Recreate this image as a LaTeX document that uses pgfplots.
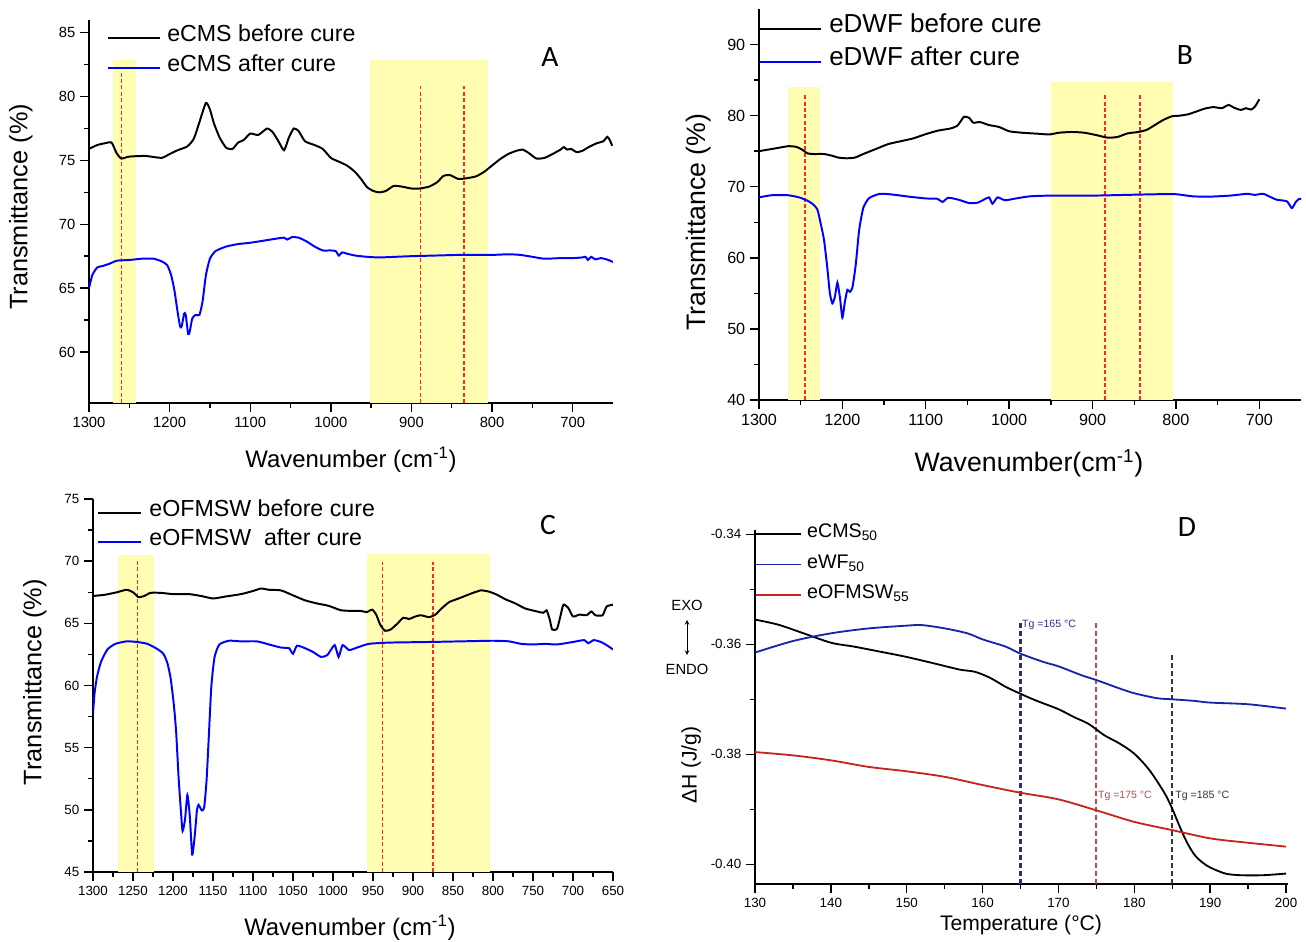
\documentclass[border=0pt]{standalone}
\usepackage{pgfplots}
\pgfplotsset{compat=1.18}
\usepackage{fontspec}
\setmainfont{Liberation Sans}
\newfontfamily\carlito{Carlito}

\definecolor{hl}{RGB}{255,253,178}
\definecolor{ftblue}{RGB}{0,0,255}
\definecolor{dscred}{RGB}{255,40,40}
\definecolor{dblue}{RGB}{25,35,165}
\definecolor{dred}{RGB}{200,35,35}
\definecolor{navyd}{RGB}{45,45,140}
\definecolor{redd}{RGB}{185,75,75}

\tikzset{
  mark line/.style={dscred, line width=0.95pt, dash pattern=on 1mm off 0.6mm},
  spectrum/.style={line width=1.4pt, smooth, tension=0.35},
}
\pgfplotsset{
  common/.style={
    scale only axis,
    anchor=south west,
    axis lines*=left,
    axis line style={line width=1.1pt},
    tick align=outside,
    major tick length=2.2mm,
    minor tick length=1.2mm,
    tick style={black, line width=1pt},
    /pgf/number format/assume math mode=true,
    /pgf/number format/1000 sep={},
    legend cell align=left,
  },
  spec/.style={
    common,
    x dir=reverse,
    xmin=650, xmax=1300,
  },
}

\begin{document}
\begin{tikzpicture}
\path[use as bounding box] (0,0) rectangle (326.5mm,235.25mm);

% ---------------- A ----------------
\begin{axis}[spec,
  at={(22.25mm,134.5mm)}, width=131mm, height=95.75mm,
  ymin=56, ymax=86, ytick={60,65,...,85}, minor y tick num=1,
  xtick={700,800,...,1300}, minor x tick num=1,
  tick label style={font=\fontsize{10.5}{12}\selectfont},
  label style={font=\fontsize{17}{19}\selectfont},
  xlabel={Wavenumber (cm\textsuperscript{-1})}, ylabel={Transmittance (\%)},
  xlabel style={at={(axis description cs:0.5,-0.149)}, anchor=center},
  ylabel style={font=\fontsize{18}{20}\selectfont, at={(axis description cs:-0.13,0.512)}, anchor=center},
  legend style={at={(axis description cs:0.0344,0.992)}, anchor=north west,
    draw=none, fill=none, inner sep=0pt, font=\fontsize{16.5}{18}\selectfont,
    nodes={inner sep=0pt, text height=0.75em, text depth=0.25em, minimum height=7.5mm},
    row sep=0pt, column sep=1.5mm},
  legend image code/.code={\draw[#1] (0mm,0mm) -- (13mm,0mm);},
]
\fill[hl] (axis cs:1270,56) rectangle (axis cs:1242,82.9);
\fill[hl] (axis cs:952,56) rectangle (axis cs:805,82.9);
\draw[mark line] (axis cs:1260,56) -- (axis cs:1260,81.9);
\draw[mark line] (axis cs:889,56) -- (axis cs:889,80.8);
\draw[mark line] (axis cs:835,56) -- (axis cs:835,80.8);
\addplot[black, spectrum] coordinates {
(1300,75.9)(1290,76.2)(1280,76.35)(1272,76.4)(1266,75.6)(1260,75.15)(1250,75.3)
(1230,75.35)(1210,75.2)(1200,75.5)(1190,75.8)(1178,76.1)(1170,76.7)(1163,78.0)
(1155,79.5)(1150,79.0)(1145,77.9)(1138,76.8)(1130,76.0)(1122,75.9)(1115,76.4)
(1108,76.6)(1100,77.1)(1090,77.0)(1079,77.5)(1072,77.2)(1065,76.5)(1058,75.8)
(1052,76.8)(1046,77.5)(1040,77.3)(1032,76.5)(1020,76.2)(1010,75.9)(1000,75.2)
(990,74.9)(980,74.6)(970,74.1)(962,73.5)(955,72.9)(947,72.6)(940,72.5)(932,72.6)
(922,73.0)(912,72.95)(900,72.8)(890,72.8)(878,72.95)(868,73.3)(860,73.8)(852,73.85)
(842,73.55)(832,73.6)(820,73.75)(810,74.1)(800,74.6)(790,75.1)(780,75.5)(770,75.75)
(762,75.85)(755,75.6)(745,75.15)(735,75.2)(725,75.5)(715,75.85)(711,76.05)(707,75.85)
(702,75.9)(695,75.65)(688,75.75)(680,76.05)(670,76.35)(662,76.5)(657,76.85)(654,76.6)
(651,76.15)
};
\addlegendentry{eCMS before cure}
\addplot[ftblue, spectrum] coordinates {
(1300,65.0)(1296,66.0)(1290,66.6)(1282,66.75)(1275,66.9)(1265,67.15)(1250,67.2)
(1235,67.3)(1220,67.3)(1210,67.1)(1203,66.8)(1198,66.0)(1194,64.8)(1190,63.1)
(1187,62.0)(1185,62.0)(1182,63.0)(1180,62.9)(1177,61.4)(1175,61.6)(1172,62.6)
(1168,62.9)(1163,62.9)(1159,64.0)(1155,66.0)(1150,67.3)(1143,67.9)(1130,68.25)
(1115,68.45)(1100,68.55)(1080,68.75)(1065,68.9)(1058,68.95)(1054,68.8)(1048,69.0)
(1040,68.95)(1030,68.65)(1020,68.25)(1010,67.95)(1000,67.95)(994,67.9)(990,67.55)
(986,67.8)(980,67.7)(970,67.55)(955,67.45)(940,67.4)(920,67.45)(900,67.5)(870,67.55)
(840,67.6)(800,67.6)(780,67.65)(765,67.6)(750,67.45)(735,67.3)(715,67.35)(700,67.35)
(688,67.4)(684,67.45)(681,67.2)(677,67.45)(672,67.25)(665,67.35)(658,67.25)(650,67.05)
};
\addlegendentry{eCMS after cure}
\end{axis}

% ---------------- B ----------------
\begin{axis}[spec,
  at={(189.75mm,135.25mm)}, width=135.5mm, height=97.75mm,
  ymin=40, ymax=95, ytick={40,50,...,90}, minor y tick num=1,
  xtick={700,800,...,1300}, minor x tick num=1,
  tick label style={font=\fontsize{11.5}{13}\selectfont},
  label style={font=\fontsize{19}{21}\selectfont},
  xlabel={Wavenumber(cm\textsuperscript{-1})}, ylabel={Transmittance (\%)},
  xlabel style={at={(axis description cs:0.498,-0.161)}, anchor=center},
  ylabel style={at={(axis description cs:-0.111,0.455)}, anchor=center},
  legend style={at={(axis description cs:0,0.991)}, anchor=north west,
    draw=none, fill=none, inner sep=0pt, font=\fontsize{18.5}{21}\selectfont,
    nodes={inner sep=0pt, text height=0.75em, text depth=0.25em, minimum height=8.25mm},
    row sep=0pt, column sep=1.75mm},
  legend image code/.code={\draw[#1] (0mm,0mm) -- (15.25mm,0mm);},
]
\fill[hl] (axis cs:1265,40) rectangle (axis cs:1227,84.0);
\fill[hl] (axis cs:950,40) rectangle (axis cs:804,84.75);
\draw[mark line] (axis cs:1245,40) -- (axis cs:1245,83.1);
\draw[mark line] (axis cs:885,40) -- (axis cs:885,83.2);
\draw[mark line] (axis cs:843,40) -- (axis cs:843,83.2);
\addplot[black, spectrum] coordinates {
(1300,75.0)(1290,75.2)(1280,75.4)(1265,75.7)(1255,75.6)(1248,75.2)(1242,74.7)
(1235,74.6)(1222,74.6)(1212,74.35)(1205,74.1)(1195,74.0)(1185,74.1)(1175,74.6)
(1160,75.3)(1145,76.0)(1130,76.4)(1115,76.8)(1100,77.4)(1085,77.9)(1070,78.2)
(1062,78.6)(1057,79.4)(1054,79.85)(1048,79.7)(1043,79.0)(1035,79.1)(1025,78.7)
(1012,78.4)(1000,77.8)(985,77.6)(965,77.45)(952,77.35)(940,77.6)(925,77.7)(910,77.6)
(895,77.25)(882,76.9)(870,77.0)(858,77.5)(845,77.7)(835,78.0)(825,78.7)(815,79.4)
(805,79.9)(795,80.0)(785,80.2)(775,80.6)(765,81.0)(755,81.2)(745,81.05)(737,81.5)
(730,81.1)(722,80.8)(716,81.05)(710,80.85)(705,81.3)(700,82.3)
};
\addlegendentry{eDWF before cure}
\addplot[ftblue, spectrum] coordinates {
(1300,68.5)(1285,68.8)(1265,68.8)(1252,68.5)(1243,68.1)(1236,67.6)(1230,66.8)
(1226,64.8)(1222,62.5)(1218,58.5)(1215,55.0)(1212,53.6)(1209,54.5)(1206,56.5)
(1203,54.5)(1200,51.6)(1197,53.8)(1194,55.5)(1191,55.2)(1188,55.8)(1184,59.0)
(1180,63.8)(1175,67.0)(1168,68.4)(1155,69.0)(1140,68.9)(1120,68.6)(1100,68.35)
(1086,68.3)(1080,67.85)(1073,68.45)(1060,68.15)(1048,67.7)(1038,67.75)(1030,68.2)
(1024,68.5)(1020,67.6)(1014,68.5)(1005,68.1)(992,68.35)(975,68.65)(950,68.75)
(900,68.75)(860,68.85)(820,68.95)(800,68.95)(780,68.65)(760,68.6)(735,68.75)
(715,69.0)(705,68.85)(695,69.0)(680,68.2)(667,67.95)(661,67.0)(656,67.9)(652,68.3)
(650,68.3)
};
\addlegendentry{eDWF after cure}
\end{axis}

% ---------------- C ----------------
\begin{axis}[spec,
  at={(23.25mm,17.25mm)}, width=130mm, height=93.25mm,
  ymin=45, ymax=75, ytick={45,50,...,75}, minor y tick num=1,
  xtick={650,700,...,1300}, minor x tick num=1,
  tick label style={font=\fontsize{9.5}{11}\selectfont},
  label style={font=\fontsize{17}{19}\selectfont},
  xlabel={Wavenumber (cm\textsuperscript{-1})}, ylabel={Transmittance (\%)},
  xlabel style={at={(axis description cs:0.494,-0.150)}, anchor=center},
  ylabel style={font=\fontsize{18}{20}\selectfont, at={(axis description cs:-0.112,0.509)}, anchor=center},
  legend style={at={(axis description cs:0.008,1.001)}, anchor=north west,
    draw=none, fill=none, inner sep=0pt, font=\fontsize{16.5}{19}\selectfont,
    nodes={inner sep=0pt, text height=0.75em, text depth=0.25em, minimum height=7.25mm},
    row sep=0pt, column sep=1.75mm},
  legend image code/.code={\draw[#1] (0mm,0mm) -- (10.75mm,0mm);},
]
\fill[hl] (axis cs:1269,45) rectangle (axis cs:1224,70.5);
\fill[hl] (axis cs:957,45) rectangle (axis cs:804,70.6);
\draw[mark line] (axis cs:1244,45) -- (axis cs:1244,70.05);
\draw[mark line] (axis cs:938,45) -- (axis cs:938,69.9);
\draw[mark line] (axis cs:875,45) -- (axis cs:875,69.9);
\addplot[black, spectrum] coordinates {
(1300,67.2)(1285,67.3)(1270,67.5)(1258,67.7)(1250,67.5)(1243,67.1)(1236,67.2)
(1228,67.45)(1215,67.45)(1200,67.35)(1180,67.35)(1165,67.2)(1150,67.0)(1135,67.15)
(1115,67.35)(1100,67.6)(1090,67.8)(1080,67.7)(1065,67.65)(1050,67.25)(1035,66.85)
(1020,66.6)(1005,66.4)(990,66.05)(975,66.0)(965,66.0)(958,65.9)(951,66.1)(946,65.7)
(941,64.9)(935,64.4)(928,64.5)(920,64.95)(912,65.45)(905,65.35)(897,65.55)(890,65.65)
(880,65.5)(872,65.7)(865,66.15)(855,66.7)(845,66.95)(835,67.2)(825,67.45)(815,67.65)
(805,67.55)(795,67.3)(785,66.95)(772,66.6)(760,66.2)(748,66.0)(737,65.85)(733,66.05)
(729,65.3)(726,64.5)(720,64.55)(716,65.5)(712,66.5)(706,66.25)(700,65.55)(692,65.7)
(683,65.65)(677,65.95)(672,65.65)(663,65.65)(658,66.35)(650,66.5)
};
\addlegendentry{eOFMSW before cure}
\addplot[ftblue, spectrum] coordinates {
(1300,57.75)(1298,59.4)(1295,60.7)(1290,61.9)(1282,62.9)(1272,63.35)(1258,63.55)
(1245,63.5)(1232,63.35)(1220,62.95)(1212,62.55)(1207,61.8)(1203,60.6)(1199,58.5)
(1196,56.2)(1193,52.6)(1190,49.8)(1188,48.3)(1185,49.2)(1182,51.2)(1179,49.5)
(1176,46.4)(1173,47.8)(1170,50.0)(1168,50.4)(1164,49.95)(1161,50.2)(1158,52.4)
(1155,56.2)(1152,60.0)(1148,62.3)(1142,63.3)(1130,63.6)(1115,63.55)(1095,63.55)
(1080,63.3)(1065,63.05)(1055,63.0)(1050,62.55)(1045,63.2)(1035,63.0)(1025,62.7)
(1015,62.3)(1007,62.45)(998,63.25)(993,62.3)(988,63.25)(980,62.85)(970,63.05)
(955,63.35)(930,63.45)(880,63.5)(840,63.55)(800,63.6)(780,63.55)(765,63.35)(750,63.3)
(735,63.35)(720,63.3)(700,63.5)(686,63.65)(681,63.4)(674,63.65)(665,63.5)(658,63.25)
(650,62.9)
};
\addlegendentry{eOFMSW\ \ after cure}
\end{axis}

% ---------------- D ----------------
\begin{axis}[common,
  at={(188.75mm,14.25mm)}, width=133.25mm, height=88.5mm,
  xmin=130, xmax=200.26, ymin=-0.4036, ymax=-0.3392,
  xtick={130,140,...,200}, minor x tick num=1,
  ytick={-0.40,-0.38,-0.36,-0.34}, minor ytick={-0.39,-0.37,-0.35},
  scaled y ticks=false,
  yticklabel style={/pgf/number format/.cd, fixed, fixed zerofill, precision=2},
  tick label style={font=\fontsize{9.5}{11}\selectfont},
  label style={font=\fontsize{15}{17}\selectfont},
  xlabel={Temperature (°C)}, ylabel={ΔH (J/g)},
  xlabel style={at={(axis description cs:0.499,-0.116)}, anchor=center},
  ylabel style={at={(axis description cs:-0.120,0.336)}, anchor=center},
  legend style={at={(axis description cs:0,1.032)}, anchor=north west,
    draw=none, fill=none, inner sep=0pt, font=\fontsize{14}{16}\selectfont,
    nodes={inner sep=0pt, text height=0.75em, text depth=0.25em, minimum height=7.6mm},
    row sep=0pt, column sep=1.25mm},
  legend image code/.code={\draw[#1] (0mm,0mm) -- (11.25mm,0mm);},
  clip=false,
]
\draw[navyd, line width=1.5pt, dash pattern=on 1.25mm off 0.75mm] (axis cs:165,-0.4036) -- (axis cs:165,-0.3556);
\draw[redd, line width=1.5pt, dash pattern=on 1.25mm off 0.75mm] (axis cs:175,-0.4036) -- (axis cs:175,-0.3556);
\draw[black!80, line width=1.5pt, dash pattern=on 1.25mm off 0.75mm] (axis cs:185,-0.4036) -- (axis cs:185,-0.3615);
\addplot[black, line width=1.3pt, smooth] coordinates {
(130,-0.3555)(133,-0.3564)(136,-0.3578)(140,-0.3597)(143,-0.3604)(146,-0.3612)
(150,-0.3623)(154,-0.3636)(157,-0.3646)(159,-0.3650)(161,-0.3661)(163,-0.3677)
(165,-0.3690)(167,-0.3702)(170,-0.3718)(172,-0.3732)(174,-0.3745)(176,-0.3765)
(178,-0.3780)(180,-0.3799)(182,-0.3829)(184,-0.3871)(185,-0.3899)(186,-0.3932)
(187,-0.3962)(188,-0.3984)(189,-0.3997)(190,-0.4006)(192,-0.4017)(194,-0.4020)
(197,-0.4020)(200,-0.4017)
};
\addlegendentry{eCMS\textsubscript{50}}
\addplot[dblue, line width=1.3pt, smooth] coordinates {
(130,-0.3615)(135,-0.3594)(140,-0.3580)(145,-0.3571)(150,-0.3566)(152,-0.3565)
(155,-0.3571)(158,-0.3580)(160,-0.3591)(163,-0.3604)(165,-0.3617)(168,-0.3632)
(170,-0.3640)(173,-0.3656)(175,-0.3665)(178,-0.3680)(180,-0.3689)(183,-0.3698)
(185,-0.3700)(188,-0.3703)(190,-0.3706)(195,-0.3709)(200,-0.3717)
};
\addlegendentry{eWF\textsubscript{50}}
\addplot[dred, line width=1.3pt, smooth] coordinates {
(130,-0.3796)(135,-0.3802)(140,-0.3811)(145,-0.3823)(150,-0.3831)(155,-0.3841)
(160,-0.3856)(165,-0.3870)(170,-0.3882)(175,-0.3902)(180,-0.3923)(185,-0.3938)
(190,-0.3953)(195,-0.3961)(200,-0.3968)
};
\addlegendentry{eOFMSW\textsubscript{55}}
\node[anchor=west, navyd, font=\fontsize{7.5}{9}\selectfont, inner sep=1pt] at (axis cs:165,-0.3564) {Tg =165 °C};
\node[anchor=west, redd, font=\fontsize{7.5}{9}\selectfont, inner sep=1pt] at (axis cs:175,-0.3875) {Tg =175 °C};
\node[anchor=west, black!80, font=\fontsize{7.5}{9}\selectfont, inner sep=1pt] at (axis cs:185.2,-0.3875) {Tg =185 °C};
\end{axis}

% EXO / ENDO indicator
\node[font=\fontsize{10.5}{12}\selectfont] at (171.75mm,84mm) {EXO};
\node[font=\fontsize{10.5}{12}\selectfont] at (171.75mm,68mm) {ENDO};
\draw[<->, >=stealth, line width=0.5pt] (171.75mm,80.25mm) -- (171.75mm,71.5mm);

% panel letters
\node[font=\carlito\fontsize{21}{24}\selectfont] at (137.5mm,221mm) {A};
\node[font=\carlito\fontsize{21}{24}\selectfont] at (296.25mm,221.5mm) {B};
\node[font=\carlito\fontsize{21}{24}\selectfont] at (137mm,104mm) {C};
\node[font=\carlito\fontsize{21}{24}\selectfont] at (296.75mm,103.5mm) {D};
\end{tikzpicture}
\end{document}
